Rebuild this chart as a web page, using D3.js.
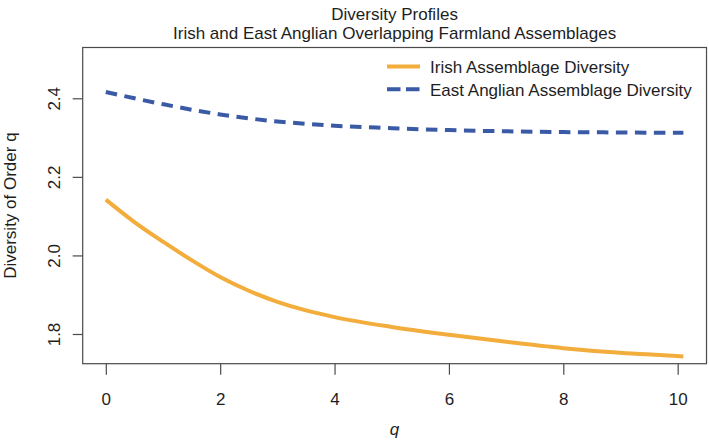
<!DOCTYPE html>
<html>
<head>
<meta charset="utf-8">
<script src="https://cdn.jsdelivr.net/npm/d3@7"></script>
<style>
  html, body { margin: 0; padding: 0; background: #fff; }
  svg { display: block; font-family: "Liberation Sans", Arial, Helvetica, sans-serif; }
</style>
</head>
<body>
<div id="chart"></div>
<script>
// diversity profile values
const qValues = [0, 0.5, 1, 1.5, 2, 2.5, 3, 3.5, 4, 5, 6, 7, 8, 9, 10.1];
const irishDiversity = [2.142, 2.085, 2.035, 1.988, 1.945, 1.910, 1.882, 1.860, 1.843, 1.818, 1.798, 1.780, 1.764, 1.752, 1.743];
const eastAnglianDiversity = [2.416, 2.400, 2.385, 2.371, 2.359, 2.349, 2.341, 2.335, 2.330, 2.324, 2.319, 2.316, 2.314, 2.313, 2.312];
const xTicks = [0, 2, 4, 6, 8, 10];
const yTicks = [1.8, 2.0, 2.2, 2.4];
const seriesNames = ["Irish Assemblage Diversity", "East Anglian Assemblage Diversity"];

const width = 709, height = 447;
const box = { left: 82.7, right: 706.5, top: 47.5, bottom: 363.7 };
const orange = "#f2ad3c", blue = "#3a5aa5", ink = "#1e1e1e", frame = "#4a4a4a";

const svg = d3.select("#chart").append("svg")
  .attr("width", width).attr("height", height)
  .attr("viewBox", [0, 0, width, height]);

const x = d3.scaleLinear().domain([-0.404, 10.504]).range([box.left, box.right]);
const y = d3.scaleLinear().domain([1.7244, 2.5293]).range([box.bottom, box.top]);

const rows = qValues.map((q, i) => ({ q, irish: irishDiversity[i], east: eastAnglianDiversity[i] }));
const line = (key) => d3.line().x((d) => x(d.q)).y((d) => y(d[key])).curve(d3.curveMonotoneX);

// curves
svg.append("path").datum(rows)
  .attr("fill", "none").attr("stroke", orange).attr("stroke-width", 4)
  .attr("d", line("irish"));
svg.append("path").datum(rows)
  .attr("fill", "none").attr("stroke", blue).attr("stroke-width", 4)
  .attr("stroke-dasharray", "11.5,7.5")
  .attr("d", line("east"));

// frame
svg.append("rect")
  .attr("x", box.left).attr("y", box.top)
  .attr("width", box.right - box.left).attr("height", box.bottom - box.top)
  .attr("fill", "none").attr("stroke", frame).attr("stroke-width", 1.2);

// x axis
const xAxis = svg.append("g")
  .attr("transform", `translate(0,${box.bottom})`)
  .call(d3.axisBottom(x).tickValues(xTicks).tickSize(11).tickFormat(d3.format("d")));
xAxis.select(".domain").remove();
xAxis.selectAll("line").attr("stroke", frame).attr("stroke-width", 1.2);
xAxis.selectAll("text")
  .attr("y", 41.3).attr("dy", null)
  .attr("fill", ink).attr("font-size", 17);

// y axis, labels parallel to the axis
const yAxis = svg.append("g")
  .attr("transform", `translate(${box.left},0)`)
  .call(d3.axisLeft(y).tickValues(yTicks).tickSize(10).tickFormat(d3.format(".1f")));
yAxis.select(".domain").remove();
yAxis.selectAll("line").attr("stroke", frame).attr("stroke-width", 1.2);
yAxis.selectAll("text")
  .attr("x", null).attr("dy", null)
  .attr("text-anchor", "middle")
  .attr("transform", "translate(-23,0) rotate(-90)")
  .attr("fill", ink).attr("font-size", 17);

const midX = (box.left + box.right) / 2;

// titles
svg.append("text").attr("x", midX).attr("y", 20)
  .attr("text-anchor", "middle").attr("font-size", 17).attr("fill", ink)
  .text("Diversity Profiles");
svg.append("text").attr("x", midX).attr("y", 38.5)
  .attr("text-anchor", "middle").attr("font-size", 17).attr("fill", ink)
  .text("Irish and East Anglian Overlapping Farmland Assemblages");

svg.append("text").attr("x", midX).attr("y", 435)
  .attr("text-anchor", "middle").attr("font-size", 17).attr("font-style", "italic").attr("fill", ink)
  .text("q");

svg.append("text")
  .attr("transform", `translate(15.5,${(box.top + box.bottom) / 2}) rotate(-90)`)
  .attr("text-anchor", "middle").attr("font-size", 17).attr("fill", ink)
  .text("Diversity of Order q");

// legend, no frame
const legend = svg.append("g").attr("transform", "translate(387,66.5)");
const legendItems = legend.selectAll("g")
  .data(seriesNames)
  .join("g")
  .attr("transform", (_, i) => `translate(0,${i * 22.8})`);
legendItems.append("line")
  .attr("x1", 0).attr("x2", 33).attr("y1", 0).attr("y2", 0)
  .attr("stroke", (_, i) => (i === 0 ? orange : blue))
  .attr("stroke-width", 4)
  .attr("stroke-dasharray", (_, i) => (i === 0 ? null : "13.5,5.5"));
legendItems.append("text")
  .attr("x", 43).attr("y", 6.2)
  .attr("font-size", 17).attr("fill", ink)
  .text((d) => d);
</script>
</body>
</html>
